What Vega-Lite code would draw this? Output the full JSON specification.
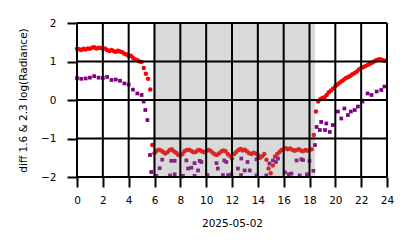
{
  "$schema": "https://vega.github.io/schema/vega-lite/v6.json",
  "width": 310,
  "height": 154,
  "autosize": {"type": "none"},
  "padding": {"left": 77, "top": 23, "right": 27, "bottom": 71},
  "background": "white",
  "config": {
    "view": {"stroke": null},
    "axis": {
      "domain": false,
      "grid": false,
      "tickColor": "black",
      "tickWidth": 2,
      "tickSize": 10,
      "labelFont": "DejaVu Sans",
      "labelFontSize": 10.5,
      "labelColor": "black",
      "labelOverlap": false,
      "labelFlush": false,
      "labelBound": false,
      "titleFont": "DejaVu Sans",
      "titleFontSize": 10.5,
      "titleFontWeight": "normal",
      "titleColor": "black"
    }
  },
  "datasets": {
    "band": [{"h": 5.88, "h2": 18.42}],
    "gridx": [{"h": 0}, {"h": 2}, {"h": 4}, {"h": 6}, {"h": 8}, {"h": 10}, {"h": 12}, {"h": 14}, {"h": 16}, {"h": 18}, {"h": 20}, {"h": 22}, {"h": 24}],
    "gridy": [{"v": -2}, {"v": -1}, {"v": 0}, {"v": 1}, {"v": 2}],
    "pts": [
      {"s": "r", "h": 0.0, "v": 1.33}, {"s": "r", "h": 0.17, "v": 1.32}, {"s": "r", "h": 0.33, "v": 1.3}, {"s": "r", "h": 0.5, "v": 1.33},
      {"s": "r", "h": 0.67, "v": 1.31}, {"s": "r", "h": 0.83, "v": 1.34}, {"s": "r", "h": 1.0, "v": 1.33}, {"s": "r", "h": 1.17, "v": 1.36},
      {"s": "r", "h": 1.33, "v": 1.37}, {"s": "r", "h": 1.5, "v": 1.34}, {"s": "r", "h": 1.67, "v": 1.36}, {"s": "r", "h": 1.83, "v": 1.35},
      {"s": "r", "h": 2.0, "v": 1.33}, {"s": "r", "h": 2.17, "v": 1.34}, {"s": "r", "h": 2.33, "v": 1.3}, {"s": "r", "h": 2.5, "v": 1.27},
      {"s": "r", "h": 2.67, "v": 1.3}, {"s": "r", "h": 2.83, "v": 1.27}, {"s": "r", "h": 3.0, "v": 1.25}, {"s": "r", "h": 3.17, "v": 1.28},
      {"s": "r", "h": 3.33, "v": 1.26}, {"s": "r", "h": 3.5, "v": 1.24}, {"s": "r", "h": 3.67, "v": 1.2}, {"s": "r", "h": 3.83, "v": 1.18},
      {"s": "r", "h": 4.0, "v": 1.14}, {"s": "r", "h": 4.17, "v": 1.15}, {"s": "r", "h": 4.33, "v": 1.1}, {"s": "r", "h": 4.5, "v": 1.05},
      {"s": "r", "h": 4.67, "v": 1.03}, {"s": "r", "h": 4.83, "v": 1.0}, {"s": "r", "h": 5.0, "v": 0.99}, {"s": "r", "h": 5.17, "v": 0.83},
      {"s": "r", "h": 5.33, "v": 0.68}, {"s": "r", "h": 5.5, "v": 0.55}, {"s": "r", "h": 5.67, "v": 0.27}, {"s": "r", "h": 5.83, "v": -1.17},
      {"s": "r", "h": 6.0, "v": -1.38}, {"s": "r", "h": 6.17, "v": -1.32}, {"s": "r", "h": 6.33, "v": -1.29}, {"s": "r", "h": 6.5, "v": -1.31},
      {"s": "r", "h": 6.67, "v": -1.35}, {"s": "r", "h": 6.83, "v": -1.39}, {"s": "r", "h": 7.0, "v": -1.36}, {"s": "r", "h": 7.17, "v": -1.3},
      {"s": "r", "h": 7.33, "v": -1.28}, {"s": "r", "h": 7.5, "v": -1.33}, {"s": "r", "h": 7.67, "v": -1.37}, {"s": "r", "h": 7.83, "v": -1.42},
      {"s": "r", "h": 8.0, "v": -1.44}, {"s": "r", "h": 8.17, "v": -1.4}, {"s": "r", "h": 8.33, "v": -1.33}, {"s": "r", "h": 8.5, "v": -1.3},
      {"s": "r", "h": 8.67, "v": -1.29}, {"s": "r", "h": 8.83, "v": -1.32}, {"s": "r", "h": 9.0, "v": -1.36}, {"s": "r", "h": 9.17, "v": -1.35},
      {"s": "r", "h": 9.33, "v": -1.31}, {"s": "r", "h": 9.5, "v": -1.3}, {"s": "r", "h": 9.67, "v": -1.33}, {"s": "r", "h": 9.83, "v": -1.36},
      {"s": "r", "h": 10.0, "v": -1.33}, {"s": "r", "h": 10.17, "v": -1.3}, {"s": "r", "h": 10.33, "v": -1.32}, {"s": "r", "h": 10.5, "v": -1.37},
      {"s": "r", "h": 10.67, "v": -1.41}, {"s": "r", "h": 10.83, "v": -1.43}, {"s": "r", "h": 11.0, "v": -1.39}, {"s": "r", "h": 11.17, "v": -1.34},
      {"s": "r", "h": 11.33, "v": -1.31}, {"s": "r", "h": 11.5, "v": -1.33}, {"s": "r", "h": 11.67, "v": -1.4}, {"s": "r", "h": 11.83, "v": -1.45},
      {"s": "r", "h": 12.0, "v": -1.52}, {"s": "r", "h": 12.17, "v": -1.4}, {"s": "r", "h": 12.33, "v": -1.35}, {"s": "r", "h": 12.5, "v": -1.3},
      {"s": "r", "h": 12.67, "v": -1.27}, {"s": "r", "h": 12.83, "v": -1.31}, {"s": "r", "h": 13.0, "v": -1.29}, {"s": "r", "h": 13.17, "v": -1.34},
      {"s": "r", "h": 13.33, "v": -1.38}, {"s": "r", "h": 13.5, "v": -1.4}, {"s": "r", "h": 13.67, "v": -1.37}, {"s": "r", "h": 13.83, "v": -1.39},
      {"s": "r", "h": 14.0, "v": -1.42}, {"s": "r", "h": 14.17, "v": -1.5}, {"s": "r", "h": 14.33, "v": -1.46}, {"s": "r", "h": 14.5, "v": -1.4},
      {"s": "r", "h": 14.67, "v": -1.55}, {"s": "r", "h": 14.83, "v": -1.78}, {"s": "r", "h": 15.0, "v": -1.9}, {"s": "r", "h": 15.17, "v": -1.7},
      {"s": "r", "h": 15.33, "v": -1.47}, {"s": "r", "h": 15.5, "v": -1.4}, {"s": "r", "h": 15.67, "v": -1.35}, {"s": "r", "h": 15.83, "v": -1.3},
      {"s": "r", "h": 16.0, "v": -1.27}, {"s": "r", "h": 16.17, "v": -1.25}, {"s": "r", "h": 16.33, "v": -1.28}, {"s": "r", "h": 16.5, "v": -1.26},
      {"s": "r", "h": 16.67, "v": -1.29}, {"s": "r", "h": 16.83, "v": -1.32}, {"s": "r", "h": 17.0, "v": -1.3}, {"s": "r", "h": 17.17, "v": -1.28},
      {"s": "r", "h": 17.33, "v": -1.31}, {"s": "r", "h": 17.5, "v": -1.33}, {"s": "r", "h": 17.67, "v": -1.3}, {"s": "r", "h": 17.83, "v": -1.32},
      {"s": "r", "h": 18.0, "v": -1.29}, {"s": "r", "h": 18.17, "v": -1.28}, {"s": "r", "h": 18.33, "v": -0.91}, {"s": "r", "h": 18.5, "v": -0.3},
      {"s": "r", "h": 18.67, "v": -0.04}, {"s": "r", "h": 18.83, "v": 0.02}, {"s": "r", "h": 19.0, "v": 0.05}, {"s": "r", "h": 19.17, "v": 0.07},
      {"s": "r", "h": 19.33, "v": 0.13}, {"s": "r", "h": 19.5, "v": 0.2}, {"s": "r", "h": 19.67, "v": 0.25}, {"s": "r", "h": 19.83, "v": 0.3},
      {"s": "r", "h": 20.0, "v": 0.36}, {"s": "r", "h": 20.17, "v": 0.4}, {"s": "r", "h": 20.33, "v": 0.45}, {"s": "r", "h": 20.5, "v": 0.49},
      {"s": "r", "h": 20.67, "v": 0.53}, {"s": "r", "h": 20.83, "v": 0.57}, {"s": "r", "h": 21.0, "v": 0.6}, {"s": "r", "h": 21.17, "v": 0.63},
      {"s": "r", "h": 21.33, "v": 0.67}, {"s": "r", "h": 21.5, "v": 0.7}, {"s": "r", "h": 21.67, "v": 0.74}, {"s": "r", "h": 21.83, "v": 0.79},
      {"s": "r", "h": 22.0, "v": 0.83}, {"s": "r", "h": 22.17, "v": 0.86}, {"s": "r", "h": 22.33, "v": 0.88}, {"s": "r", "h": 22.5, "v": 0.91},
      {"s": "r", "h": 22.67, "v": 0.94}, {"s": "r", "h": 22.83, "v": 0.97}, {"s": "r", "h": 23.0, "v": 1.0}, {"s": "r", "h": 23.17, "v": 1.03},
      {"s": "r", "h": 23.33, "v": 1.05}, {"s": "r", "h": 23.5, "v": 1.06}, {"s": "r", "h": 23.67, "v": 1.03}, {"s": "r", "h": 23.83, "v": 1.02},

      {"s": "p", "h": 0.0, "v": 0.57}, {"s": "p", "h": 0.33, "v": 0.55}, {"s": "p", "h": 0.67, "v": 0.56}, {"s": "p", "h": 1.0, "v": 0.58},
      {"s": "p", "h": 1.33, "v": 0.62}, {"s": "p", "h": 1.67, "v": 0.58}, {"s": "p", "h": 2.0, "v": 0.57}, {"s": "p", "h": 2.33, "v": 0.6},
      {"s": "p", "h": 2.67, "v": 0.52}, {"s": "p", "h": 3.0, "v": 0.53}, {"s": "p", "h": 3.33, "v": 0.5}, {"s": "p", "h": 3.67, "v": 0.43},
      {"s": "p", "h": 4.0, "v": 0.4}, {"s": "p", "h": 4.33, "v": 0.27}, {"s": "p", "h": 4.67, "v": 0.17}, {"s": "p", "h": 5.0, "v": 0.13},
      {"s": "p", "h": 5.16, "v": -0.04}, {"s": "p", "h": 5.29, "v": -0.26}, {"s": "p", "h": 5.45, "v": -0.52},
      {"s": "p", "h": 5.65, "v": -1.43}, {"s": "p", "h": 5.75, "v": -1.87}, {"s": "p", "h": 6.15, "v": -1.97}, {"s": "p", "h": 6.4, "v": -1.77},
      {"s": "p", "h": 6.6, "v": -1.55}, {"s": "p", "h": 7.2, "v": -1.96}, {"s": "p", "h": 7.3, "v": -1.58}, {"s": "p", "h": 7.56, "v": -1.58},
      {"s": "p", "h": 7.56, "v": -1.93}, {"s": "p", "h": 8.08, "v": -1.99}, {"s": "p", "h": 8.2, "v": -1.97}, {"s": "p", "h": 8.47, "v": -1.57},
      {"s": "p", "h": 8.6, "v": -1.78}, {"s": "p", "h": 8.85, "v": -1.76}, {"s": "p", "h": 9.1, "v": -1.64}, {"s": "p", "h": 9.1, "v": -1.97},
      {"s": "p", "h": 9.37, "v": -1.83}, {"s": "p", "h": 9.5, "v": -1.58}, {"s": "p", "h": 9.63, "v": -1.61}, {"s": "p", "h": 10.1, "v": -1.95},
      {"s": "p", "h": 10.8, "v": -1.64}, {"s": "p", "h": 10.9, "v": -1.78}, {"s": "p", "h": 11.3, "v": -1.95}, {"s": "p", "h": 11.4, "v": -1.57},
      {"s": "p", "h": 11.56, "v": -1.61}, {"s": "p", "h": 11.7, "v": -1.95}, {"s": "p", "h": 11.95, "v": -1.93}, {"s": "p", "h": 12.46, "v": -1.78},
      {"s": "p", "h": 12.7, "v": -1.95}, {"s": "p", "h": 12.72, "v": -1.52}, {"s": "p", "h": 12.98, "v": -1.83}, {"s": "p", "h": 13.2, "v": -1.61},
      {"s": "p", "h": 13.37, "v": -1.83}, {"s": "p", "h": 13.9, "v": -1.54}, {"s": "p", "h": 13.9, "v": -1.96}, {"s": "p", "h": 14.66, "v": -1.96},
      {"s": "p", "h": 14.9, "v": -1.65}, {"s": "p", "h": 15.17, "v": -1.57}, {"s": "p", "h": 15.4, "v": -1.61}, {"s": "p", "h": 15.56, "v": -1.52},
      {"s": "p", "h": 16.1, "v": -1.88}, {"s": "p", "h": 16.4, "v": -1.93}, {"s": "p", "h": 16.6, "v": -1.91}, {"s": "p", "h": 17.0, "v": -1.57},
      {"s": "p", "h": 17.24, "v": -1.96}, {"s": "p", "h": 17.37, "v": -1.54}, {"s": "p", "h": 17.5, "v": -1.56}, {"s": "p", "h": 17.8, "v": -1.93},
      {"s": "p", "h": 18.0, "v": -1.58}, {"s": "p", "h": 18.3, "v": -1.84}, {"s": "p", "h": 18.42, "v": -1.17},
      {"s": "p", "h": 18.55, "v": -0.7}, {"s": "p", "h": 18.8, "v": -0.78}, {"s": "p", "h": 18.9, "v": -0.57}, {"s": "p", "h": 19.2, "v": -0.78},
      {"s": "p", "h": 19.3, "v": -0.61}, {"s": "p", "h": 19.57, "v": -0.83}, {"s": "p", "h": 19.8, "v": -0.65}, {"s": "p", "h": 20.2, "v": -0.3},
      {"s": "p", "h": 20.46, "v": -0.48}, {"s": "p", "h": 20.7, "v": -0.22}, {"s": "p", "h": 20.97, "v": -0.39}, {"s": "p", "h": 21.2, "v": -0.3},
      {"s": "p", "h": 21.5, "v": -0.26}, {"s": "p", "h": 21.75, "v": -0.17}, {"s": "p", "h": 22.1, "v": -0.04}, {"s": "p", "h": 22.5, "v": 0.17},
      {"s": "p", "h": 22.8, "v": 0.13}, {"s": "p", "h": 23.2, "v": 0.22}, {"s": "p", "h": 23.56, "v": 0.26}, {"s": "p", "h": 23.8, "v": 0.35}
    ]
  },
  "layer": [
    {
      "data": {"name": "pts"},
      "transform": [{"filter": "datum.s === 'r'"}],
      "mark": {"type": "point", "shape": "circle", "filled": true, "color": "#ff0000", "opacity": 1, "size": 20},
      "encoding": {
        "x": {
          "field": "h", "type": "quantitative",
          "scale": {"domain": [0, 24], "nice": false, "zero": false},
          "axis": {"values": [0, 2, 4, 6, 8, 10, 12, 14, 16, 18, 20, 22, 24], "title": "2025-05-02", "labelPadding": 8, "titleY": 46, "titleBaseline": "middle"}
        },
        "y": {
          "field": "v", "type": "quantitative",
          "scale": {"domain": [-2, 2], "nice": false, "zero": false},
          "axis": {"values": [-2, -1, 0, 1, 2], "title": "diff 1.6 & 2.3  log(Radiance)", "labelPadding": 11, "titleX": -54, "titleBaseline": "middle"}
        }
      }
    },
    {
      "data": {"name": "pts"},
      "transform": [{"filter": "datum.s === 'p'"}],
      "mark": {"type": "point", "shape": "square", "filled": true, "color": "#800080", "opacity": 1, "size": 14},
      "encoding": {
        "x": {
          "field": "h", "type": "quantitative",
          "scale": {"domain": [0, 24], "nice": false, "zero": false},
          "axis": {"values": [0, 2, 4, 6, 8, 10, 12, 14, 16, 18, 20, 22, 24], "title": "2025-05-02", "labelPadding": 8, "titleY": 46, "titleBaseline": "middle"}
        },
        "y": {
          "field": "v", "type": "quantitative",
          "scale": {"domain": [-2, 2], "nice": false, "zero": false},
          "axis": {"values": [-2, -1, 0, 1, 2], "title": "diff 1.6 & 2.3  log(Radiance)", "labelPadding": 11, "titleX": -54, "titleBaseline": "middle"}
        }
      }
    },
    {
      "data": {"name": "band"},
      "mark": {"type": "rect", "color": "#808080", "opacity": 0.3},
      "encoding": {
        "x": {
          "field": "h", "type": "quantitative",
          "scale": {"domain": [0, 24], "nice": false, "zero": false},
          "axis": {"values": [0, 2, 4, 6, 8, 10, 12, 14, 16, 18, 20, 22, 24], "title": "2025-05-02", "labelPadding": 8, "titleY": 46, "titleBaseline": "middle"}
        },
        "x2": {"field": "h2"},
        "y": {
          "datum": -2, "type": "quantitative",
          "scale": {"domain": [-2, 2], "nice": false, "zero": false},
          "axis": {"values": [-2, -1, 0, 1, 2], "title": "diff 1.6 & 2.3  log(Radiance)", "labelPadding": 11, "titleX": -54, "titleBaseline": "middle"}
        },
        "y2": {"datum": 2}
      }
    },
    {
      "data": {"name": "gridx"},
      "mark": {"type": "rect", "fill": null, "filled": false, "stroke": "black", "strokeWidth": 2, "strokeOpacity": 1},
      "encoding": {
        "x": {
          "field": "h", "type": "quantitative",
          "scale": {"domain": [0, 24], "nice": false, "zero": false},
          "axis": {"values": [0, 2, 4, 6, 8, 10, 12, 14, 16, 18, 20, 22, 24], "title": "2025-05-02", "labelPadding": 8, "titleY": 46, "titleBaseline": "middle"}
        },
        "x2": {"field": "h"},
        "y": {
          "datum": -2, "type": "quantitative",
          "scale": {"domain": [-2, 2], "nice": false, "zero": false},
          "axis": {"values": [-2, -1, 0, 1, 2], "title": "diff 1.6 & 2.3  log(Radiance)", "labelPadding": 11, "titleX": -54, "titleBaseline": "middle"}
        },
        "y2": {"datum": 2}
      }
    },
    {
      "data": {"name": "gridy"},
      "mark": {"type": "rect", "fill": null, "filled": false, "stroke": "black", "strokeWidth": 2, "strokeOpacity": 1},
      "encoding": {
        "x": {
          "datum": 0, "type": "quantitative",
          "scale": {"domain": [0, 24], "nice": false, "zero": false},
          "axis": {"values": [0, 2, 4, 6, 8, 10, 12, 14, 16, 18, 20, 22, 24], "title": "2025-05-02", "labelPadding": 8, "titleY": 46, "titleBaseline": "middle"}
        },
        "x2": {"datum": 24},
        "y": {
          "field": "v", "type": "quantitative",
          "scale": {"domain": [-2, 2], "nice": false, "zero": false},
          "axis": {"values": [-2, -1, 0, 1, 2], "title": "diff 1.6 & 2.3  log(Radiance)", "labelPadding": 11, "titleX": -54, "titleBaseline": "middle"}
        },
        "y2": {"field": "v"}
      }
    }
  ]
}
